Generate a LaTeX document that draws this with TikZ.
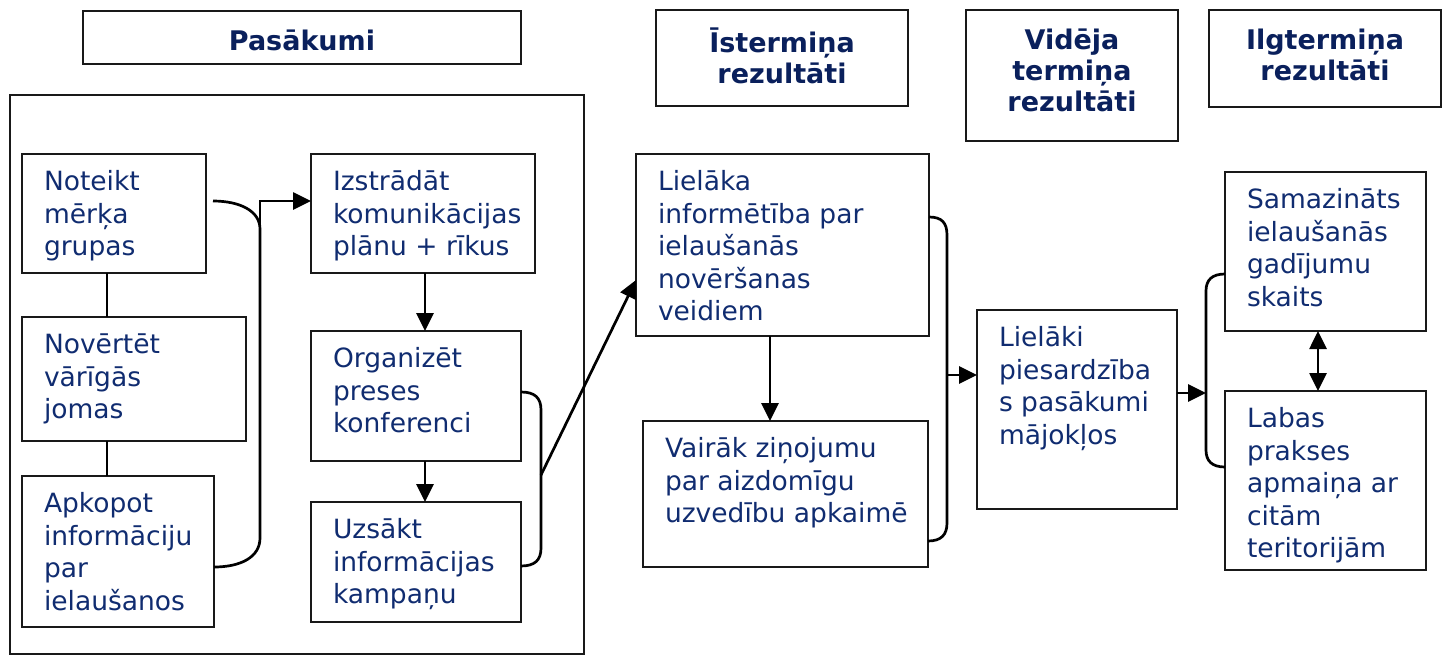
\documentclass[tikz,border=0pt]{standalone}
\usepackage{fontspec}
\setmainfont{DejaVu Sans}
\usetikzlibrary{calc,arrows.meta}
\definecolor{txt}{RGB}{16,44,112}
\definecolor{hdr}{RGB}{10,32,92}
\newcommand\bodytext[3]{\begin{minipage}[c][#2][t]{#1}\fontsize{26.5}{32.5}\selectfont\raggedright\leftskip=22pt\vspace*{14pt}\strut #3\end{minipage}}
\newcommand\headtext[3]{\begin{minipage}[c][#2][t]{#1}\fontsize{27}{31}\selectfont\bfseries\centering\vspace*{18pt}\strut #3\end{minipage}}
\tikzset{
  box/.style={draw=black!90, line width=2.4pt, inner sep=0pt, outer sep=0pt, anchor=north west, text=txt},
  hbox/.style={box, text=hdr},
  conn/.style={line width=2.7pt, black},
  arr/.style={conn, -{Triangle[length=18pt,width=17pt]}},
  darr/.style={conn, {Triangle[length=18pt,width=17pt]}-{Triangle[length=18pt,width=17pt]}}
}
\begin{document}
\begin{tikzpicture}[x=1pt,y=-1pt]
\useasboundingbox (0,0) rectangle (1444,657);
% headers
\node[hbox] (h1) at (83,11) {\headtext{438pt}{53pt}{Pasākumi}};
\node[hbox] (h2) at (656,10) {\headtext{252pt}{96pt}{Īstermiņa\\rezultāti}};
\node[hbox] (h3) at (966,10) {\headtext{212pt}{131pt}{Vidēja\\termiņa\\rezultāti}};
\node[hbox] (h4) at (1209,10) {\headtext{232pt}{97pt}{Ilgtermiņa\\rezultāti}};
% container
\node[box, minimum width=574pt, minimum height=559pt] (cont) at (10,95) {};
% left column
\node[box] (n1) at (22,154) {\bodytext{184pt}{119pt}{Noteikt\\mērķa\\grupas}};
\node[box] (n2) at (22,317) {\bodytext{224pt}{124pt}{Novērtēt\\vārīgās\\jomas}};
\node[box] (n3) at (22,476) {\bodytext{192pt}{151pt}{Apkopot\\informāciju\\par\\ielaušanos}};
% middle column
\node[box] (m1) at (311,154) {\bodytext{224pt}{119pt}{Izstrādāt\\komunikācijas\\plānu + rīkus}};
\node[box] (m2) at (311,331) {\bodytext{210pt}{130pt}{Organizēt\\preses\\konferenci}};
\node[box] (m3) at (311,502) {\bodytext{210pt}{120pt}{Uzsākt\\informācijas\\kampaņu}};
% short term
\node[box] (s1) at (636,154) {\bodytext{293pt}{182pt}{Lielāka\\informētība par\\ielaušanās\\novēršanas\\veidiem}};
\node[box] (s2) at (643,421) {\bodytext{285pt}{146pt}{Vairāk ziņojumu\\par aizdomīgu\\uzvedību apkaimē}};
% medium term
\node[box] (v1) at (977,310) {\bodytext{200pt}{199pt}{Lielāki\\piesardzība\\s pasākumi\\mājokļos}};
% long term
\node[box] (l1) at (1225,172) {\bodytext{201pt}{159pt}{Samazināts\\ielaušanās\\gadījumu\\skaits}};
\node[box] (l2) at (1225,391) {\bodytext{201pt}{179pt}{Labas\\prakses\\apmaiņa ar\\citām\\teritorijām}};

% left column links
\draw[conn] ($(n1.south west)+(85,0)$) -- ($(n2.north west)+(85,0)$);
\draw[conn] ($(n2.south west)+(85,0)$) -- ($(n3.north west)+(85,0)$);
% bracket 1
\coordinate (b1t) at ($(n1.north east)+(7,47)$);
\coordinate (b1b) at ($(n3.north east)+(0,91)$);
\coordinate (b1m) at ($(b1t)+(47,172)$);
\draw[conn] (b1t) .. controls ($(b1t)+(27,0)$) and ($(b1t)+(47,10)$) .. ($(b1t)+(47,28)$)
  -- ($(b1b)+(46,-29)$) .. controls ($(b1b)+(46,-10)$) and ($(b1b)+(27,0)$) .. (b1b);
\draw[arr] (b1m) |- ($(m1.north west)+(0,47)$);
% middle column arrows
\draw[arr] ($(m1.south west)+(114,0)$) -- ($(m2.north west)+(114,0)$);
\draw[arr] ($(m2.south west)+(114,0)$) -- ($(m3.north west)+(114,0)$);
% bracket 2
\coordinate (b2t) at ($(m2.north east)+(0,61)$);
\coordinate (b2b) at ($(m3.north east)+(0,64)$);
\coordinate (b2m) at ($(b2t)+(20,83)$);
\draw[conn] (b2t) .. controls ($(b2t)+(14,0)$) and ($(b2t)+(20,6)$) .. ($(b2t)+(20,18)$)
  -- ($(b2b)+(20,-18)$) .. controls ($(b2b)+(20,-6)$) and ($(b2b)+(14,0)$) .. (b2b);
\draw[arr] (b2m) -- ($(s1.north west)+(0,126)$);
% short term link
\draw[arr] ($(s1.south west)+(134,0)$) -- ($(s2.north west)+(127,0)$);
% bracket 3
\coordinate (b3t) at ($(s1.north east)+(0,63)$);
\coordinate (b3b) at ($(s2.north east)+(0,120)$);
\coordinate (b3m) at ($(b3t)+(18,158)$);
\draw[conn] (b3t) .. controls ($(b3t)+(13,0)$) and ($(b3t)+(18,6)$) .. ($(b3t)+(18,18)$)
  -- ($(b3b)+(19,-18)$) .. controls ($(b3b)+(19,-6)$) and ($(b3b)+(13,0)$) .. (b3b);
\draw[arr] (b3m) -- ($(v1.north west)+(0,65)$);
% bracket 4
\coordinate (b4t) at ($(l1.north west)+(0,102)$);
\coordinate (b4b) at ($(l2.north west)+(0,76)$);
\coordinate (b4m) at ($(b4t)+(-19,119)$);
\draw[conn] (b4t) .. controls ($(b4t)+(-13,0)$) and ($(b4t)+(-19,6)$) .. ($(b4t)+(-19,17)$)
  -- ($(b4b)+(-19,-17)$) .. controls ($(b4b)+(-19,-6)$) and ($(b4b)+(-13,0)$) .. (b4b);
\draw[arr] ($(v1.north east)+(0,83)$) -- (b4m);
% long term double arrow
\draw[darr] ($(l1.south west)+(93,0)$) -- ($(l2.north west)+(93,0)$);
\end{tikzpicture}
\end{document}
